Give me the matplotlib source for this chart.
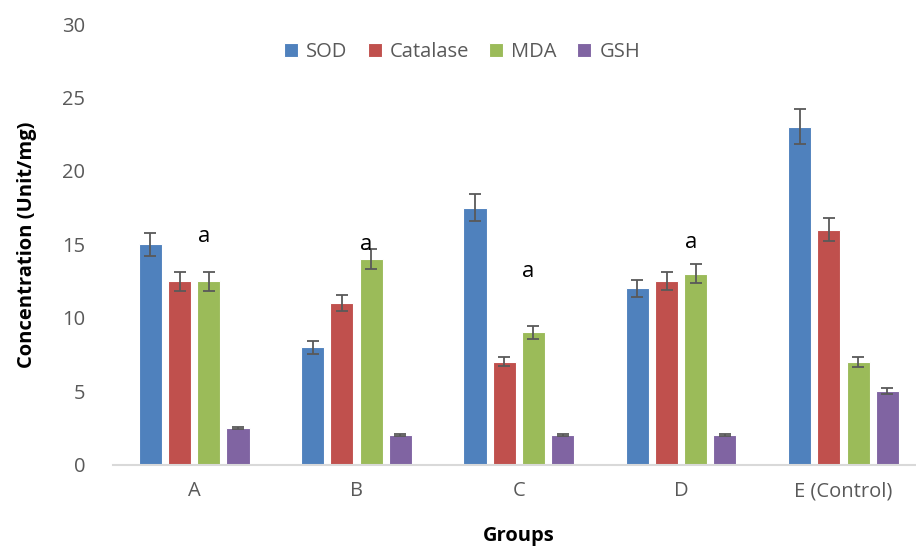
import matplotlib
matplotlib.use("Agg")
from matplotlib import pyplot as plt
import numpy as np

groups = ['A', 'B', 'C', 'D', 'E (Control)']
series = ['SOD', 'Catalase', 'MDA', 'GSH']
sod = [15, 8, 17.5, 12, 23]
catalase = [12.5, 11, 7, 12.5, 16]
mda = [12.5, 14, 9, 13, 7]
gsh = [2.5, 2, 2, 2, 5]
sod_err = [0.8, 0.45, 0.9, 0.6, 1.2]
catalase_err = [0.65, 0.55, 0.3, 0.6, 0.8]
mda_err = [0.65, 0.7, 0.45, 0.65, 0.35]
gsh_err = [0.05, 0.08, 0.08, 0.08, 0.2]
# "a" marks: group index, height
mark_groups = [0, 1, 2, 3]
mark_y = [14.85, 14.3, 12.45, 14.4]

colors = ['#4F81BD', '#C0504D', '#9BBB59', '#8064A2']
values = [sod, catalase, mda, gsh]
errors = [sod_err, catalase_err, mda_err, gsh_err]

plt.rcParams['font.family'] = ['Open Sans', 'DejaVu Sans']

fig = plt.figure(figsize=(9.16, 5.46), dpi=100)
ax = fig.add_axes([0.1234, 0.149, 0.886, 0.807])

x = np.arange(len(groups))
step = 0.18
width = 0.142
for i in range(4):
    pos = x + (i - 1.5) * step
    ax.bar(pos, values[i], width, color=colors[i], edgecolor='white',
           linewidth=0.8, label=series[i], zorder=2)
    ax.errorbar(pos, values[i], yerr=errors[i], fmt='none', ecolor='#595959',
                elinewidth=1.3, capsize=4.5, capthick=1.3, zorder=3)

for g, yv in zip(mark_groups, mark_y):
    ax.text(g + 0.5 * step - 0.03, yv, 'a', ha='center', va='bottom',
            fontsize=16, color='black')

ax.set_xlim(-0.5, 4.5)
ax.set_ylim(0, 30)
ax.set_yticks([0, 5, 10, 15, 20, 25, 30])
ax.set_xticks(x)
ax.set_xticklabels(groups)
for s in ['top', 'right', 'left']:
    ax.spines[s].set_visible(False)
ax.spines['bottom'].set_color('#D9D9D9')
ax.spines['bottom'].set_linewidth(1.5)
ax.tick_params(axis='both', length=0, labelsize=14.5, labelcolor='#595959')
ax.tick_params(axis='y', pad=20)
ax.tick_params(axis='x', pad=12)

ax.set_ylabel('Concentration (Unit/mg)', fontsize=14.5, fontweight='bold',
              color='black', labelpad=18)
ax.set_xlabel('Groups', fontsize=14.5, fontweight='bold', color='black',
              labelpad=18)

leg = ax.legend(loc='upper center', bbox_to_anchor=(0.43, 1.0), ncol=4,
                frameon=False, fontsize=14.5, handlelength=0.7,
                handleheight=0.7, handletextpad=0.4, columnspacing=1.0)
for t in leg.get_texts():
    t.set_color('#595959')

fig.savefig('out.png', dpi=100)
